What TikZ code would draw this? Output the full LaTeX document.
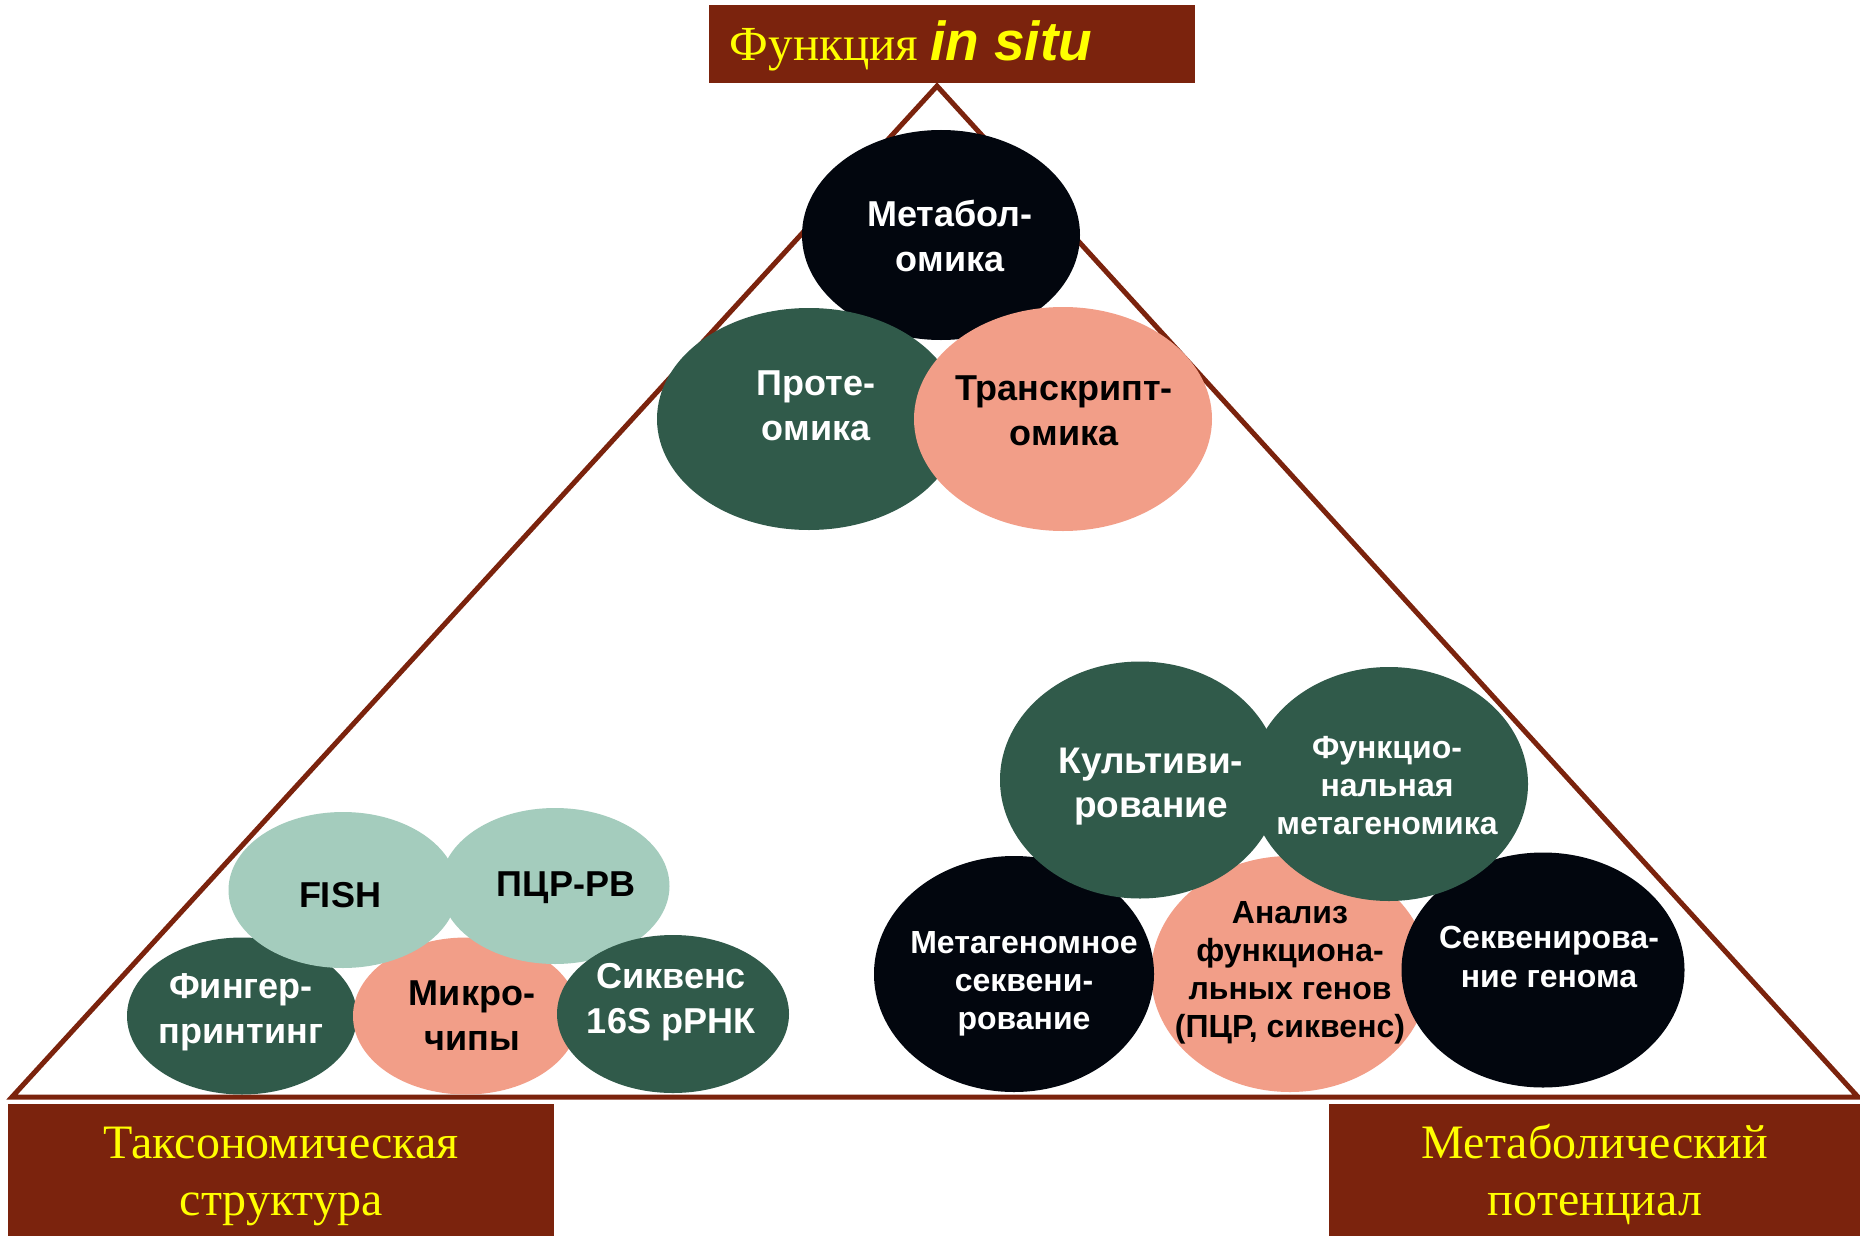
\documentclass[tikz,border=0pt]{standalone}
\usepackage{fontspec}
\setmainfont{Liberation Serif}
\newfontfamily\arialf{Liberation Sans}
\usetikzlibrary{shapes.geometric}
\definecolor{brn}{RGB}{123,35,13}
\definecolor{ylw}{RGB}{255,255,0}
\definecolor{dgreen}{RGB}{48,90,74}
\definecolor{salmon}{RGB}{242,158,136}
\definecolor{lgreen}{RGB}{164,204,189}
\definecolor{nblack}{RGB}{2,6,14}
\begin{document}
\begin{tikzpicture}[x=1pt,y=-1pt,
  ell/.style={ellipse, draw=none, inner sep=0pt},
  brbox/.style={rectangle, fill=brn, draw=none, inner sep=0pt, anchor=north west},
  tri/.style={draw=brn, line width=5pt},
  lbl/.style={align=center, anchor=base, inner sep=0pt},
  s36/.style={font=\arialf\bfseries\fontsize{36}{45}\selectfont},
  s32/.style={font=\arialf\bfseries\fontsize{32}{38}\selectfont},
  serif/.style={align=center, inner sep=0pt, text=ylw, font=\fontsize{48}{57}\selectfont}
]
\useasboundingbox (0,0) rectangle (1860,1236);
\fill[white] (0,0) rectangle (1860,1236);

% boxes
\node[brbox, minimum width=486, minimum height=78] (topbox) at (709,5) {};
\node[brbox, minimum width=546, minimum height=132] (taxbox) at (8,1104) {};
\node[brbox, minimum width=531, minimum height=132] (metbox) at (1329,1104) {};

% triangle
\coordinate (apex) at (937,86);
\coordinate (bl) at (12,1097);
\coordinate (br) at (1858,1097);
\draw[tri] (bl) -- (apex) -- (br) -- cycle;

% top group
\node[ell, fill=nblack, minimum width=278, minimum height=210] (metab) at (941,235) {};
\node[ell, fill=dgreen, minimum width=304, minimum height=222] (prot) at (809,419) {};
\node[ell, fill=salmon, minimum width=298, minimum height=224] (trans) at (1063,419) {};

% bottom left group
\node[ell, fill=dgreen, minimum width=230, minimum height=157] (finger) at (242,1016) {};
\node[ell, fill=salmon, minimum width=226, minimum height=157] (micro) at (466,1016) {};
\node[ell, fill=lgreen, minimum width=229, minimum height=156] (fish) at (343,890) {};
\node[ell, fill=lgreen, minimum width=229, minimum height=156] (pcr) at (555,886) {};
\node[ell, fill=dgreen, minimum width=232, minimum height=158] (seq16) at (673,1014) {};

% bottom right group
\node[ell, fill=salmon, minimum width=278, minimum height=236] (anal) at (1290,974) {};
\node[ell, fill=nblack, minimum width=280, minimum height=236] (metseq) at (1014,974) {};
\node[ell, fill=nblack, minimum width=283, minimum height=235] (genseq) at (1543,970) {};
\node[ell, fill=dgreen, minimum width=280, minimum height=237] (cult) at (1140,780) {};
\node[ell, fill=dgreen, minimum width=278, minimum height=234] (funcmg) at (1389,784) {};

% labels (anchor=base is the baseline of the last line)
\node[lbl, s36, text=white] (metabT) at (950,271) {Метабол-\\омика};
\node[lbl, s36, text=white] (protT) at (816,440) {Проте-\\омика};
\node[lbl, s36, text=black] (transT) at (1064,445) {Транскрипт-\\омика};

\node[lbl, s36, text=black] (fishT) at (340,907) {FISH};
\node[lbl, s36, text=black] (pcrT) at (566,896) {ПЦР-РВ};
\node[lbl, s36, text=white] (fingerT) at (241,1043) {Фингер-\\принтинг};
\node[lbl, s36, text=black] (microT) at (472,1050) {Микро-\\чипы};
\node[lbl, s36, text=white] (seq16T) at (671,1033) {Сиквенс\\16S рРНК};

\node[lbl, font=\arialf\bfseries\fontsize{37}{44}\selectfont, text=white] (cultT) at (1151,817) {Культиви-\\рование};
\node[lbl, s32, text=white] (funcmgT) at (1387,834) {Функцио-\\нальная\\метагеномика};
\node[lbl, s32, text=white] (metseqT) at (1024,1029) {Метагеномное\\секвени-\\рование};
\node[lbl, s32, text=black] (analT) at (1290,1037) {Анализ\\функциона-\\льных генов\\(ПЦР, сиквенс)};
\node[lbl, font=\arialf\bfseries\fontsize{32}{39}\selectfont, text=white] (genseqT) at (1549,987) {Секвенирова-\\ние генома};

% box texts
\node[anchor=base, inner sep=0pt, text=ylw] (topT) at (911,61) {\fontsize{49}{56}\selectfont Функция {\arialf\bfseries\itshape\fontsize{55}{60}\selectfont in situ}};
\node[serif, anchor=base] (taxT) at (281,1215) {Таксономическая\\структура};
\node[serif, anchor=base] (metT) at (1595,1215) {Метаболический\\потенциал};
\end{tikzpicture}
\end{document}
